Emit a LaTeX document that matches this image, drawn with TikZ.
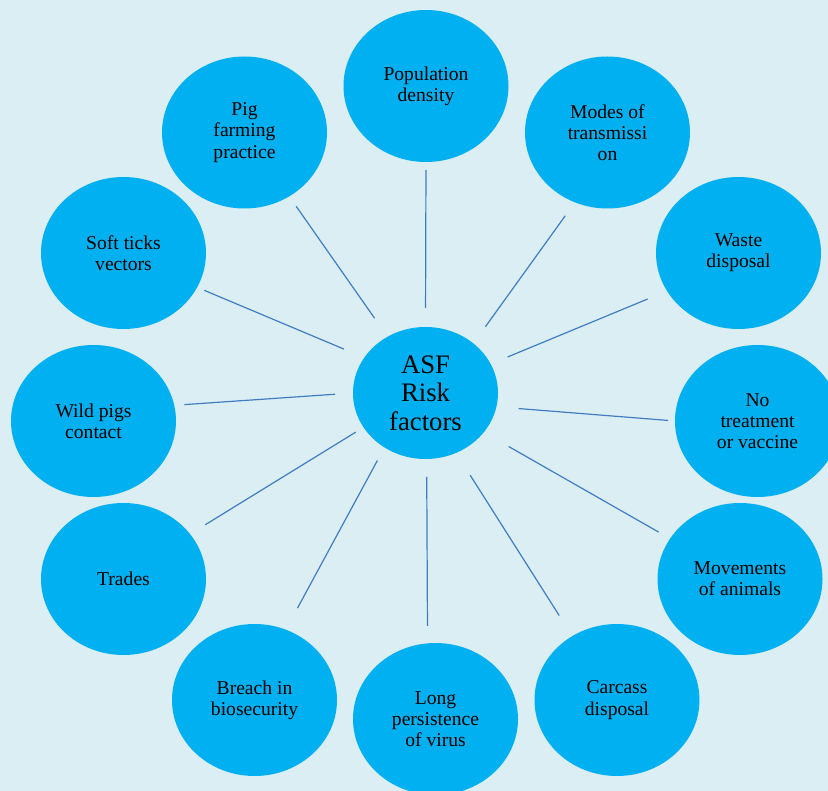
\documentclass[tikz,border=0pt]{standalone}
\usepackage{fontspec}
\setmainfont{Liberation Serif}
\usetikzlibrary{shapes.geometric}
\definecolor{bgblue}{HTML}{DAEEF3}
\definecolor{bubble}{HTML}{00B0F0}
\definecolor{spoke}{RGB}{64,125,195}
\tikzset{
  factor/.style={ellipse, fill=bubble, inner sep=0pt, outer sep=0pt,
    minimum width=165pt, minimum height=152pt, align=center,
    font=\fontsize{19.6}{21.3}\selectfont},
  hub/.style={ellipse, fill=bubble, inner sep=0pt, outer sep=0pt,
    minimum width=145pt, minimum height=132pt, align=center,
    font=\fontsize{26.7}{28.5}\selectfont},
  link/.style={draw=spoke, line width=1.2pt}
}
\begin{document}
\begin{tikzpicture}[x=1pt, y=-1pt]
  \useasboundingbox (0,0) rectangle (828,791);
  \clip (0,0) rectangle (828,791);
  \fill[bgblue] (0,0) rectangle (828,791);

  % central topic
  \node[hub] (asf) at (425.5,393) {ASF\\Risk\\factors};

  % risk factors around it
  \node[factor] (pop)    at (426,86)      {Population\\density};
  \node[factor] (modes)  at (607.5,132.5) {Modes of\\transmissi\\on};
  \node[factor] (waste)  at (738.5,253)   {Waste\\disposal};
  \node[factor] (treat)  at (757.5,421)   {No\\treatment\\or vaccine};
  \node[factor] (moves)  at (740,579)     {Movements\\of animals};
  \node[factor] (carc)   at (617,700)     {Carcass\\disposal};
  \node[factor] (long)   at (435.5,719)   {Long\\persistence\\of virus};
  \node[factor] (breach) at (254.5,700)   {Breach in\\biosecurity};
  \node[factor] (trades) at (123.5,579)   {Trades};
  \node[factor] (wild)   at (93.5,421)    {Wild pigs\\contact};
  \node[factor] (ticks)  at (123.5,253)   {Soft ticks\\vectors};
  \node[factor] (farm)   at (244.5,132.5) {Pig\\farming\\practice};

  % spokes from the hub to each factor, kept clear of both rims
  \draw[link, shorten <=19pt,   shorten >=8pt]    (asf.90)     -- (pop.-90);
  \draw[link, shorten <=20.6pt, shorten >=16.6pt] (asf.46.6)   -- (modes.-115.6);
  \draw[link, shorten <=18.3pt, shorten >=21pt]   (asf.24.4)   -- (waste.-152.6);
  \draw[link, shorten <=22.2pt, shorten >=7pt]    (asf.-11.6)  -- (treat.180);
  \draw[link, shorten <=28.7pt, shorten >=13.2pt] (asf.-34.5)  -- (moves.150.7);
  \draw[link, shorten <=26.5pt, shorten >=24.4pt] (asf.-63.7)  -- (carc.125.9);
  \draw[link, shorten <=18pt,   shorten >=17.4pt] (asf.-89.6)  -- (long.96.2);
  \draw[link, shorten <=14.9pt, shorten >=24.5pt] (asf.-127.4) -- (breach.66.5);
  \draw[link, shorten <=9.2pt,  shorten >=17.9pt] (asf.-151.7) -- (trades.34.8);
  \draw[link, shorten <=18pt,   shorten >=10.1pt] (asf.180)    -- (wild.11.2);
  \draw[link, shorten <=22pt,   shorten >=7.8pt]  (asf.150.3)  -- (ticks.-25.3);
  \draw[link, shorten <=22.6pt, shorten >=12.1pt] (asf.124)    -- (farm.-55.9);
\end{tikzpicture}
\end{document}
